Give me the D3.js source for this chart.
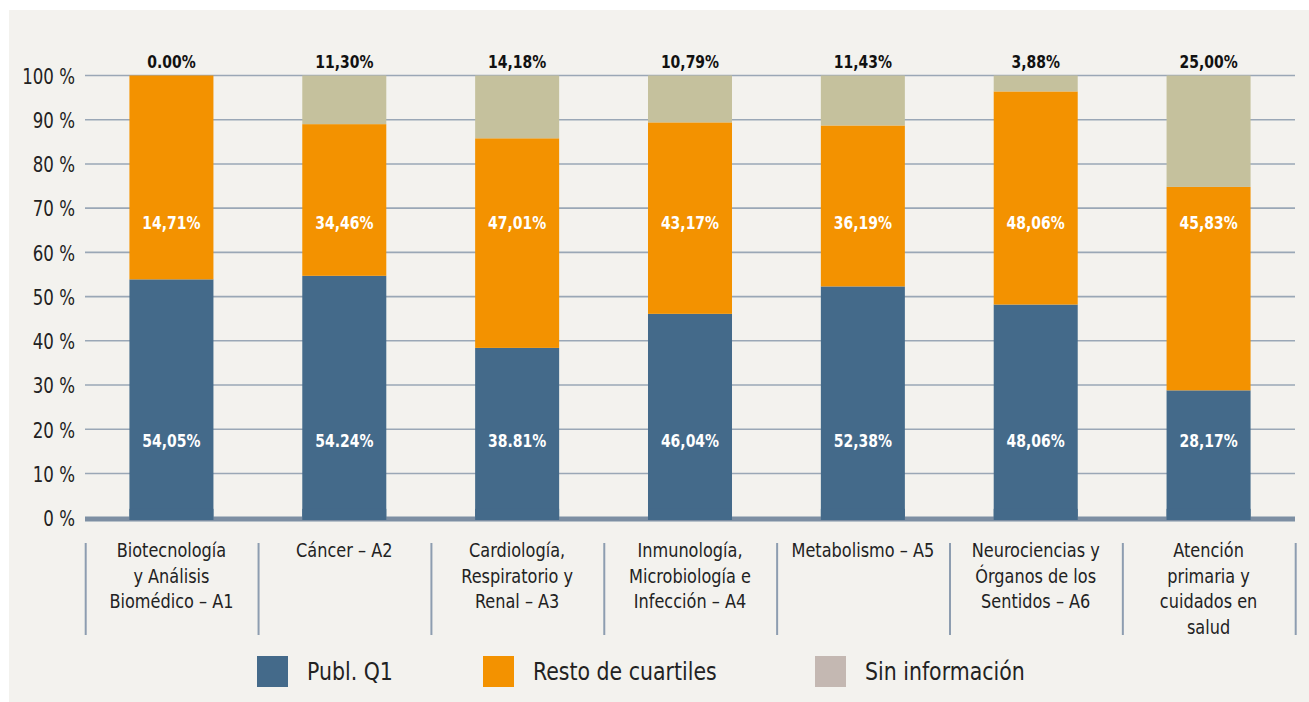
<!DOCTYPE html>
<html><head><meta charset="utf-8">
<script src="https://cdn.jsdelivr.net/npm/d3@7"></script>
<style>
html,body{margin:0;padding:0;background:#fff;}
svg{display:block;}
text{font-family:"DejaVu Sans Condensed","Liberation Sans",sans-serif;}
</style></head>
<body>
<svg id="c" width="1309" height="702"></svg>
<script>
const categories = [
  ["Biotecnología","y Análisis","Biomédico – A1"],
  ["Cáncer – A2"],
  ["Cardiología,","Respiratorio y","Renal – A3"],
  ["Inmunología,","Microbiología e","Infección – A4"],
  ["Metabolismo – A5"],
  ["Neurociencias y","Órganos de los","Sentidos – A6"],
  ["Atención","primaria y","cuidados en","salud"]
];
const q1Values    = [53.9, 54.7, 38.4, 46.1, 52.3, 48.2, 28.8];
const restoValues = [46.1, 34.3, 47.4, 43.3, 36.4, 48.2, 46.0];
const sinValues   = [0.0, 11.0, 14.2, 10.6, 11.3, 3.6, 25.2];
const q1Labels    = ["54,05%","54.24%","38.81%","46,04%","52,38%","48,06%","28,17%"];
const restoLabels = ["14,71%","34,46%","47,01%","43,17%","36,19%","48,06%","45,83%"];
const sinLabels   = ["0.00%","11,30%","14,18%","10,79%","11,43%","3,88%","25,00%"];
const yTicks = [0,10,20,30,40,50,60,70,80,90,100];
const seriesNames = ["Publ. Q1","Resto de cuartiles","Sin información"];

const colors = {q1:"#446a8a", resto:"#f39200", sin:"#c5c19d", legendSin:"#c4b8b2"};

const svg = d3.select("#c");
svg.append("rect").attr("x",9).attr("y",10).attr("width",1300).attr("height",692).attr("fill","#f3f2ee");

const x0 = 85, x1 = 1295;
const y = d3.scaleLinear().domain([0,100]).range([517.7,75.5]);
const x = d3.scaleBand().domain(d3.range(categories.length)).range([x0,x1]).paddingInner(0.514).paddingOuter(0.257);

// gridlines
svg.append("g").selectAll("line").data(yTicks.filter(t=>t>0)).join("line")
  .attr("x1",x0).attr("x2",x1).attr("y1",d=>y(d)).attr("y2",d=>y(d))
  .attr("stroke","#9aa7b6").attr("stroke-width",1.6);

// y axis labels
const yAxis = d3.axisLeft(y).tickValues(yTicks).tickSize(0).tickPadding(0).tickFormat(d=>d+" %");
const ga = svg.append("g").attr("transform","translate(75,0)").call(yAxis);
ga.select(".domain").remove();
ga.selectAll("text").attr("font-size",21.5).attr("fill","#222").attr("dy","0.36em")
  .attr("transform","scale(0.86,1)")
  .style("font-family",'"DejaVu Sans Condensed",sans-serif');

// stacked data
const data = categories.map((c,i)=>({i, q1:q1Values[i], resto:restoValues[i], sin:sinValues[i]}));
const stack = d3.stack().keys(["q1","resto","sin"])(data);
svg.append("g").selectAll("g").data(stack).join("g")
  .attr("fill",d=>colors[d.key])
  .selectAll("rect").data(d=>d).join("rect")
  .attr("x",d=>x(d.data.i)).attr("width",x.bandwidth())
  .attr("y",d=>y(d[1])).attr("height",d=>Math.max(0,y(d[0])-y(d[1])));

// zero axis line
svg.append("line").attr("x1",x0).attr("x2",x1).attr("y1",519).attr("y2",519)
  .attr("stroke","#7d8fa3").attr("stroke-width",5);
svg.append("g").selectAll("rect").data(data).join("rect")
  .attr("x",d=>x(d.i)).attr("width",x.bandwidth()).attr("y",y(2)).attr("height",520-y(2))
  .attr("fill",colors.q1);

const cx = i => x(i)+x.bandwidth()/2;
function boldLabels(arr, yy, fill, dy){
  svg.append("g").selectAll("text").data(arr).join("text")
    .attr("transform",(d,i)=>`translate(${cx(i)},${yy}) scale(0.84,1)`)
    .attr("dy",dy).attr("text-anchor","middle")
    .attr("font-size",18.5).attr("font-weight","bold").attr("fill",fill).text(d=>d);
}
boldLabels(sinLabels, 68, "#111", 0);
boldLabels(restoLabels, y(66.8), "#fff", "0.36em");
boldLabels(q1Labels, y(17.5), "#fff", "0.36em");

// category separators
const step = x.step();
svg.append("g").selectAll("line").data(d3.range(categories.length+1)).join("line")
  .attr("x1",i=>x0+0.7+i*step).attr("x2",i=>x0+0.7+i*step).attr("y1",543).attr("y2",635)
  .attr("stroke","#8d9db0").attr("stroke-width",2);

// category labels
const cl = svg.append("g").selectAll("text").data(categories).join("text")
  .attr("transform",(d,i)=>`translate(${cx(i)},0) scale(0.92,1)`)
  .attr("text-anchor","middle").attr("font-size",19.5).attr("fill","#222");
cl.selectAll("tspan").data((d,i)=>d.map(l=>({l,i}))).join("tspan")
  .attr("x",0).attr("y",(d,j)=>557+j*25.7).text(d=>d.l);

// legend
const legX = [257, 483, 815];
const legCols = [colors.q1, colors.resto, colors.legendSin];
const lg = svg.append("g").selectAll("g").data(seriesNames).join("g");
lg.append("rect").attr("x",(d,i)=>legX[i]).attr("y",656).attr("width",31).attr("height",31).attr("fill",(d,i)=>legCols[i]);
lg.append("text").attr("transform",(d,i)=>`translate(${legX[i]+50},680) scale(0.95,1)`)
  .attr("font-size",24).attr("fill","#222").text(d=>d);
</script>
</body></html>
